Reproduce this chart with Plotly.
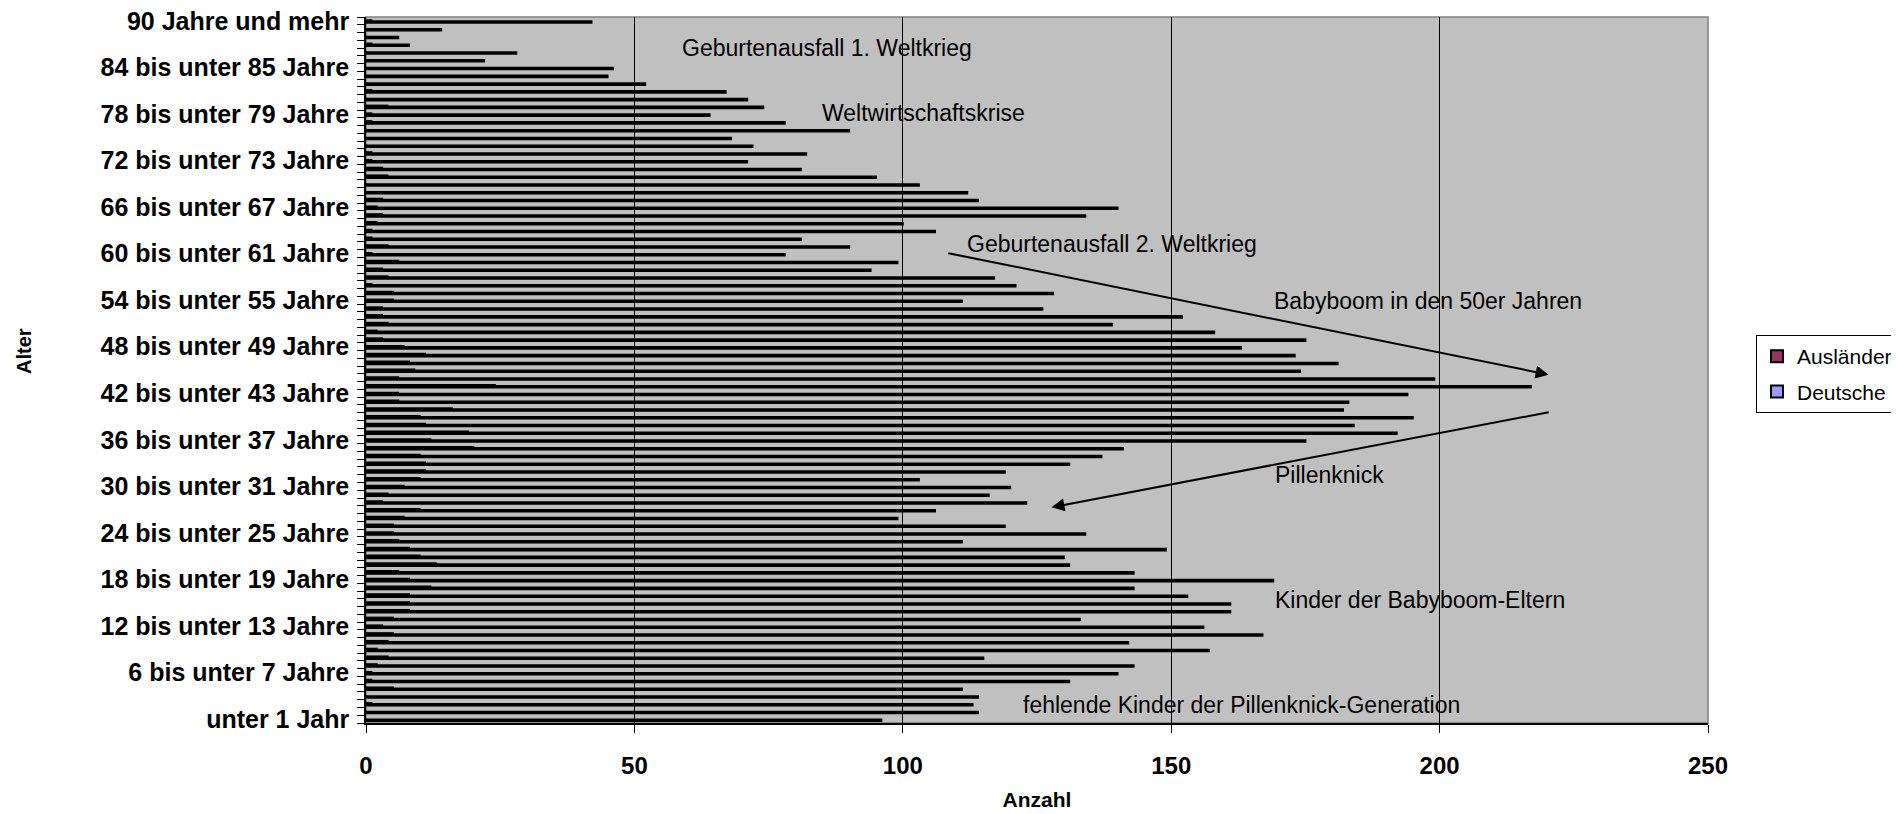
import plotly.graph_objects as go

# ---------------- data ----------------
age_labels = (["unter 1 Jahr"]
              + [f"{i} bis unter {i + 1} Jahre" for i in range(1, 90)]
              + ["90 Jahre und mehr"])

# Deutsche, age 0 .. 90+
deutsche = [96, 114, 113, 114, 111, 131, 140, 143, 115, 157,
            142, 167, 156, 133, 161, 161, 153, 143, 169, 143,
            131, 130, 149, 111, 134, 119, 99, 106, 123, 116,
            120, 103, 119, 131, 137, 141, 175, 192, 184, 195,
            182, 183, 194, 217, 199, 174, 181, 173, 163, 175,
            158, 139, 152, 126, 111, 128, 121, 117, 94, 99,
            78, 90, 81, 106, 100, 134, 140, 114, 112, 103,
            95, 81, 71, 82, 72, 68, 90, 78, 64, 74,
            71, 67, 52, 45, 46, 22, 28, 8, 6, 14,
            42]

# Ausländer, age 0 .. 90+
auslaender = [0, 0, 1, 0, 5, 1, 1, 2, 4, 2,
              4, 5, 3, 5, 8, 8, 8, 12, 8, 6,
              13, 10, 8, 6, 5, 5, 7, 10, 3, 4,
              7, 10, 11, 11, 10, 20, 12, 19, 11, 10,
              16, 6, 6, 24, 6, 9, 8, 11, 7, 3,
              2, 4, 3, 3, 5, 5, 1, 4, 3, 6,
              1, 4, 1, 1, 2, 3, 2, 3, 0, 0,
              4, 3, 1, 1, 0, 0, 0, 1, 1, 4,
              0, 1, 0, 0, 0, 0, 0, 1, 0, 0,
              1]

x_ticks = [0, 50, 100, 150, 200, 250]
label_every = 6
y_ticktext = [lab if i % label_every == 0 else "" for i, lab in enumerate(age_labels)]

FONT = "Arial, Liberation Sans, sans-serif"

W, H = 1899, 814
ML, MR, MT, MB = 358, 199, 9, 99
plot_w = W - ML - MR
plot_h = H - MT - MB

fig = go.Figure()
fig.add_trace(go.Bar(
    y=age_labels, x=deutsche, orientation="h", name="Deutsche",
    marker=dict(color="#9999FF", line=dict(color="black", width=2)),
    width=0.2, offset=-0.25, legendrank=2, legendgroup="d",
))
fig.add_trace(go.Bar(
    y=age_labels, x=auslaender, orientation="h", name="Ausländer",
    marker=dict(color="#993366", line=dict(color="black", width=2)),
    width=0.13, offset=-0.05, legendrank=1, legendgroup="a",
))

annots = [
    dict(text="Geburtenausfall 1. Weltkrieg", x=58.5, y=86.5),
    dict(text="Weltwirtschaftskrise", x=84.5, y=78.1),
    dict(text="Geburtenausfall 2. Weltkrieg", x=111.5, y=61.2),
    dict(text="Babyboom in den 50er Jahren", x=168.8, y=53.9),
    dict(text="Pillenknick", x=168.9, y=31.5),
    dict(text="Kinder der Babyboom-Eltern", x=168.9, y=15.3),
    dict(text="fehlende Kinder der Pillenknick-Generation", x=122.0, y=1.8),
]
annotations = []
for a in annots:
    annotations.append(dict(
        text=a["text"], x=a["x"], y=a["y"], xref="x", yref="y",
        xanchor="left", yanchor="middle", showarrow=False,
        font=dict(family=FONT, size=23, color="black"),
    ))
# arrows
for (x0, y0, x1, y1) in [(108.2, 60.1, 220.3, 44.4), (220.6, 39.6, 127.7, 27.3)]:
    annotations.append(dict(
        x=x1, y=y1, ax=x0, ay=y0, xref="x", yref="y", axref="x", ayref="y",
        text="", showarrow=True, arrowhead=2, arrowsize=1.3, arrowwidth=2,
        arrowcolor="black", standoff=0, startstandoff=0,
    ))
# y axis title
annotations.append(dict(
    text="<b>Alter</b>", textangle=-90,
    x=(16 - ML) / plot_w, y=(H - MB - 343) / plot_h,
    xref="paper", yref="paper", xanchor="center", yanchor="middle",
    showarrow=False, font=dict(family=FONT, size=20, color="black"),
))

fig.update_layout(
    width=W, height=H,
    margin=dict(l=ML, r=MR, t=MT, b=MB, autoexpand=False),
    paper_bgcolor="white", plot_bgcolor="#C0C0C0",
    barmode="overlay", showlegend=True,
    font=dict(family=FONT, color="black"),
    xaxis=dict(
        range=[0, 250], tickmode="array", tickvals=x_ticks,
        ticks="outside", ticklen=8, tickcolor="black", tickwidth=1,
        showline=True, linecolor="black", linewidth=1.5,
        showgrid=True, gridcolor="black", gridwidth=1, zeroline=False,
        tickfont=dict(family=FONT, size=24, color="black", weight="bold"),
        ticklabelstandoff=12,
        title=dict(text="Anzahl", standoff=15,
                   font=dict(family=FONT, size=21, color="black", weight="bold")),
    ),
    yaxis=dict(
        type="category", categoryorder="array", categoryarray=age_labels,
        range=[-0.5, len(age_labels) - 0.5],
        tickmode="array", tickvals=age_labels, ticktext=y_ticktext,
        ticks="outside", ticklen=7, tickcolor="black", tickson="boundaries",
        showline=True, linecolor="black", linewidth=1.5, showgrid=False,
        tickfont=dict(family=FONT, size=25, color="black", weight="bold"),
        ticklabelstandoff=10,
    ),
    legend=dict(
        x=(1748 - ML) / plot_w, y=(H - MB - 327) / plot_h,
        xanchor="left", yanchor="top",
        bgcolor="white", bordercolor="black", borderwidth=1,
        font=dict(family=FONT, size=21, color="black"),
        tracegroupgap=5,
    ),
    annotations=annotations,
    shapes=[dict(type="rect", xref="paper", yref="paper", x0=0, y0=0, x1=1, y1=1,
                 line=dict(color="#808080", width=1.5), layer="below")],
)

fig.write_html("out.html")
